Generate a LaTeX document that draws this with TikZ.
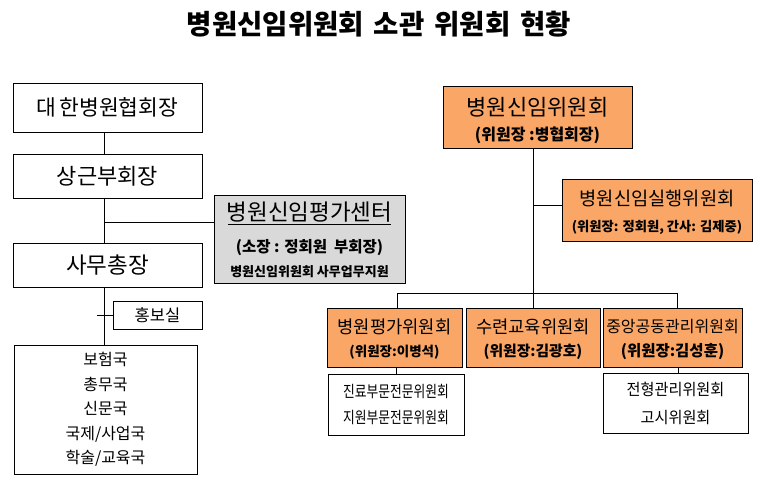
\documentclass[tikz,border=0pt]{standalone}
\usepackage{fontspec}
\setmainfont{Noto Sans CJK KR}
\newfontfamily\krn[FakeStretch=0.8]{Noto Sans CJK KR}
\newfontfamily\krm[FakeStretch=0.95]{Noto Sans CJK KR}
\usetikzlibrary{calc}
\definecolor{orangefill}{RGB}{250,166,102}
\definecolor{grayfill}{RGB}{217,217,217}
\begin{document}
\begin{tikzpicture}[x=1pt,y=-1pt,
  box/.style={draw=black,line width=0.9pt,inner sep=0pt,fill=white},
  obox/.style={box,fill=orangefill},
  gbox/.style={box,fill=grayfill},
  wire/.style={draw=black,line width=0.9pt},
  txt/.style={inner sep=0pt,anchor=center}]
\useasboundingbox (0,0) rectangle (767,481);

% title
\node[txt] (title) at (379,24) {\bfseries\fontsize{27.5}{31}\selectfont 병원신임위원회\hspace{10pt}소관\hspace{10pt}위원회\hspace{10pt}현황};

% left column
\node[box,minimum width=189pt,minimum height=49pt] (kha) at (107.5,107.5) {\fontsize{21.5}{25}\selectfont 대\hspace{3pt}한병원협회장};
\node[box,minimum width=189pt,minimum height=44pt] (vp) at (107.5,176) {\fontsize{22}{25}\selectfont 상근부회장};
\node[box,minimum width=189pt,minimum height=44pt] (sg) at (107.5,265) {\fontsize{22.5}{25}\selectfont 사무총장};
\node[box,minimum width=89pt,minimum height=28pt] (pr) at (157.5,315) {\fontsize{16.5}{19}\selectfont 홍보실};
\node[box,minimum width=183pt,minimum height=129pt,align=center,font=\fontsize{16}{24.5}\selectfont] (depts) at (105.5,409.5) {보험국\\총무국\\신문국\\국제/사업국\\학술/교육국};
\node[gbox,minimum width=191pt,minimum height=88pt] (center) at (309.5,239) {};
\node[txt] (ctitle) at ($(center.center)+(0,-27)$) {\fontsize{22.5}{26}\selectfont 병원신임평가센터};
\draw[line width=0.9pt] ($(center.center)+(-81.5,-15)$) -- ($(center.center)+(81.5,-15)$);
\node[txt] (chead) at ($(center.center)+(0,9)$) {\bfseries\fontsize{15.5}{18}\selectfont (소장 : 정회원\ \ 부회장)};
\node[txt] (csup) at ($(center.center)+(0,33)$) {\bfseries\fontsize{13}{15}\selectfont 병원신임위원회 사무업무지원};

\coordinate (ls) at (104,0);
\coordinate (jc) at (104,222);
\coordinate (jp) at (97,315);
\draw[wire] (kha.south -| ls) -- (vp.north -| ls);
\draw[wire] (vp.south -| ls) -- (sg.north -| ls);
\draw[wire] (jc) -- (jc -| center.west);
\draw[wire] (sg.south -| ls) -- (depts.north -| ls);
\draw[wire] (jp) -- (pr.west);

% right column
\node[obox,minimum width=189pt,minimum height=62pt] (top) at (537.5,117) {};
\node[txt] (toptitle) at ($(top.center)+(0,-10)$) {\fontsize{22}{25}\selectfont 병원신임위원회};
\node[txt] (topsub) at ($(top.center)+(0,18)$) {\bfseries\fontsize{16}{18}\selectfont (위원장 :병협회장)};

\node[obox,minimum width=190pt,minimum height=62pt] (exec) at (657,210) {};
\node[txt] (exectitle) at ($(exec.center)+(0,-12)$) {\fontsize{18.7}{22}\selectfont 병원신임실행위원회};
\node[txt] (execsub) at ($(exec.center)+(0,17)$) {\bfseries\fontsize{13.3}{16}\selectfont (위원장: 정회원, 간사: 김제중)};

\node[obox,minimum width=135pt,minimum height=59pt] (eval) at (394.5,337.5) {};
\node[txt] (evaltitle) at ($(eval.center)+(0,-10.5)$) {\fontsize{17.7}{21}\selectfont 병원평가위원회};
\node[txt] (evalsub) at ($(eval.center)+(0,14.5)$) {\bfseries\fontsize{13.5}{16}\selectfont (위원장:이병석)};

\node[obox,minimum width=134pt,minimum height=59pt] (train) at (533,337.5) {};
\node[txt] (traintitle) at ($(train.center)+(0,-10.5)$) {\fontsize{17.7}{21}\selectfont 수련교육위원회};
\node[txt] (trainsub) at ($(train.center)+(0,14.5)$) {\bfseries\fontsize{14.8}{17}\selectfont (위원장:김광호)};

\node[obox,minimum width=139pt,minimum height=59pt] (joint) at (672.5,337.5) {};
\node[txt] (jointtitle) at ($(joint.center)+(0,-10.5)$) {\fontsize{16}{19}\selectfont 중앙공동관리위원회};
\node[txt] (jointsub) at ($(joint.center)+(0,14.5)$) {\bfseries\fontsize{15.5}{18}\selectfont (위원장:김성훈)};

\node[box,minimum width=136pt,minimum height=61pt,align=center,font=\krn\fontsize{16}{26}\selectfont] (sub1) at (396,404.5) {진료부문전문위원회\\지원부문전문위원회};
\node[box,minimum width=145pt,minimum height=60pt,align=center,font=\krm\fontsize{16}{28}\selectfont] (sub3) at (675.5,403) {전형관리위원회\\고시위원회};

\coordinate (rs) at (533,0);
\coordinate (je) at (533,205);
\coordinate (bus) at (533,293);
\coordinate (busl) at (397,293);
\coordinate (busr) at (677,293);
\draw[wire] (top.south -| rs) -- (bus);
\draw[wire] (je) -- (je -| exec.west);
\draw[wire] (busl) -- (busr);
\draw[wire] (busl) -- (eval.north -| busl);
\draw[wire] (bus) -- (train.north -| bus);
\draw[wire] (busr) -- (joint.north -| busr);
\draw[wire] (eval.south -| sub1.north) -- (sub1.north);
\draw[wire] ($(joint.south)+(5.5,0)$) -- ($(sub3.north)+(2.5,0)$);
\end{tikzpicture}
\end{document}
